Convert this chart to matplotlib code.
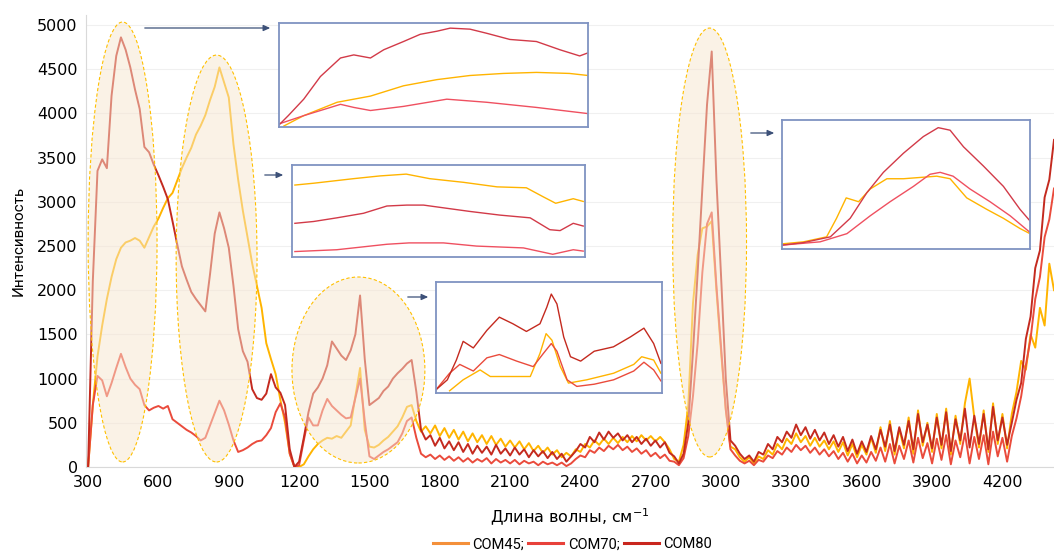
import matplotlib
matplotlib.use("Agg")
import matplotlib.pyplot as plt
import numpy as np
from matplotlib.patches import Ellipse, FancyArrowPatch
from matplotlib.lines import Line2D

# wavenumber grid, cm-1 (step 20)
wn = np.arange(300, 4421, 20)

com45 = [
    0, 700, 1250, 1600, 1900, 2150, 2350, 2480, 2540, 2560,
    2590, 2560, 2480, 2600, 2720, 2810, 2930, 3040, 3100, 3240,
    3380, 3500, 3610, 3760, 3860, 3980, 4150, 4300, 4520, 4350,
    4180, 3650, 3250, 2900, 2600, 2300, 2050, 1800, 1400, 1220,
    1050, 760, 500, 150, 0, 0, 30, 120, 200, 260,
    300, 330, 320, 350, 330, 400, 470, 800, 1120, 420,
    230, 220, 250, 300, 340, 400, 460, 560, 680, 700,
    520, 400, 460, 380, 470, 350, 440, 330, 420, 310,
    400, 290, 380, 280, 360, 260, 350, 250, 320, 230,
    300, 220, 290, 200, 270, 180, 240, 160, 220, 140,
    190, 110, 160, 120, 200, 170, 260, 220, 300, 250,
    320, 260, 330, 270, 340, 280, 350, 290, 360, 300,
    350, 290, 340, 280, 200, 90, 60, 250, 700, 1850,
    2400, 2700, 2720, 2780, 2000, 1300, 650, 230, 200, 110,
    60, 110, 40, 120, 90, 190, 140, 260, 200, 320,
    260, 380, 280, 350, 240, 330, 230, 300, 200, 290,
    170, 280, 130, 260, 110, 250, 140, 330, 160, 450,
    180, 520, 140, 430, 210, 560, 150, 640, 240, 500,
    170, 600, 210, 660, 140, 580, 260, 720, 1000, 560,
    220, 640, 170, 720, 260, 600, 210, 600, 850, 1200,
    1100, 1500, 1350, 1800, 1600, 2300, 2000,
]

com70 = [
    0, 700, 1030, 980, 800, 950, 1120, 1280, 1130, 1000,
    930, 880, 700, 640, 670, 690, 660, 690, 540, 500,
    460, 420, 390, 350, 300, 330, 470, 610, 750, 640,
    480, 300, 170, 190, 220, 260, 290, 300, 360, 440,
    620, 720, 560, 150, 0, 20, 300, 560, 470, 470,
    640, 770, 690, 640, 590, 550, 560, 780, 1000, 520,
    120, 90, 130, 170, 200, 240, 280, 380, 520, 560,
    330, 150, 110, 140, 90, 130, 80, 120, 70, 110,
    60, 100, 50, 90, 60, 100, 40, 90, 50, 80,
    40, 80, 30, 70, 40, 60, 20, 60, 30, 50,
    20, 50, 10, 40, 90, 130, 110, 190, 160, 220,
    180, 240, 200, 250, 190, 230, 170, 210, 150, 190,
    120, 160, 100, 140, 70, 60, 20, 100, 350, 800,
    1400, 2200, 2750, 2880, 2050, 1350, 650, 200, 130, 70,
    40, 70, 20, 80, 60, 130, 100, 180, 140, 220,
    170, 250, 190, 240, 160, 220, 140, 200, 120, 180,
    90, 160, 60, 150, 40, 130, 50, 170, 70, 220,
    60, 260, 40, 240, 90, 300, 50, 330, 100, 270,
    40, 320, 80, 360, 30, 300, 110, 380, 40, 340,
    90, 360, 30, 400, 120, 330, 60, 350, 550, 800,
    1150, 1450, 1900, 2150, 2600, 2800, 3150,
]

com80 = [
    0, 2100, 3350, 3480, 3380, 4200, 4650, 4860, 4720, 4520,
    4270, 4050, 3620, 3560, 3420, 3300, 3170, 3030, 2780, 2520,
    2270, 2120, 1980, 1900, 1830, 1760, 2180, 2640, 2880, 2700,
    2480, 2050, 1560, 1310, 1190, 880, 780, 760, 830, 1050,
    900, 840, 700, 200, 0, 60, 330, 620, 830, 900,
    1000, 1150, 1420, 1340, 1260, 1210, 1320, 1500, 1940, 1220,
    700, 740, 780, 860, 910, 1000, 1060, 1110, 1170, 1210,
    850, 420, 310, 360, 240, 330, 210, 290, 190, 280,
    170, 260, 150, 240, 160, 230, 140, 250, 150, 210,
    130, 220, 140, 200, 110, 190, 120, 180, 100, 170,
    90, 150, 60, 120, 180, 260, 220, 340, 280, 390,
    310, 400, 330, 380, 300, 360, 280, 340, 260, 320,
    240, 300, 220, 280, 160, 120, 40, 150, 500, 1300,
    2200, 3150, 4100, 4700, 3250, 2150, 1000, 300, 240, 150,
    90, 130, 60, 170, 140, 260, 200, 340, 280, 400,
    330, 480, 360, 450, 320, 420, 300, 390, 260, 360,
    230, 340, 180, 310, 150, 290, 170, 350, 200, 420,
    230, 480, 180, 450, 250, 520, 200, 600, 280, 480,
    210, 560, 250, 620, 180, 540, 300, 660, 220, 580,
    260, 600, 200, 680, 300, 560, 250, 500, 760, 950,
    1450, 1700, 2250, 2450, 3050, 3250, 3700,
]

# inset curves, normalised to each inset box (u, v)
in1_u80 = [0, 0.03, 0.08, 0.134, 0.199, 0.242, 0.296, 0.339, 0.403, 0.457, 0.511, 0.554, 0.618, 0.672, 0.747, 0.833, 0.909, 0.973, 1.0]
in1_v80 = [0.01, 0.10, 0.26, 0.48, 0.66, 0.69, 0.66, 0.74, 0.82, 0.89, 0.92, 0.95, 0.94, 0.90, 0.84, 0.82, 0.74, 0.68, 0.71]
in1_u45 = [0.016, 0.08, 0.188, 0.296, 0.403, 0.511, 0.618, 0.726, 0.833, 0.94, 1.0]
in1_v45 = [0.0, 0.10, 0.23, 0.29, 0.39, 0.45, 0.49, 0.51, 0.52, 0.51, 0.49]
in1_u70 = [0, 0.08, 0.145, 0.199, 0.242, 0.296, 0.403, 0.543, 0.672, 0.833, 1.0]
in1_v70 = [0.02, 0.10, 0.16, 0.21, 0.18, 0.15, 0.19, 0.26, 0.23, 0.18, 0.12]

in2_u45 = [0.01, 0.074, 0.21, 0.30, 0.39, 0.47, 0.585, 0.70, 0.80, 0.858, 0.90, 0.96, 0.994]
in2_v45 = [0.78, 0.80, 0.85, 0.88, 0.90, 0.85, 0.81, 0.76, 0.75, 0.65, 0.58, 0.63, 0.60]
in2_u80 = [0.01, 0.074, 0.153, 0.244, 0.324, 0.392, 0.449, 0.517, 0.608, 0.71, 0.813, 0.88, 0.915, 0.96, 0.994]
in2_v80 = [0.36, 0.38, 0.42, 0.47, 0.55, 0.56, 0.56, 0.53, 0.49, 0.45, 0.42, 0.29, 0.28, 0.36, 0.33]
in2_u70 = [0.01, 0.153, 0.324, 0.40, 0.517, 0.63, 0.79, 0.89, 0.96, 0.994]
in2_v70 = [0.05, 0.07, 0.13, 0.145, 0.145, 0.11, 0.09, 0.02, 0.07, 0.055]

in3_u80 = [0, 0.05, 0.09, 0.12, 0.165, 0.225, 0.28, 0.34, 0.40, 0.46, 0.49, 0.51, 0.535, 0.565, 0.595, 0.64, 0.70, 0.785, 0.86, 0.92, 0.963, 0.995]
in3_v80 = [0.02, 0.11, 0.29, 0.46, 0.40, 0.56, 0.68, 0.62, 0.55, 0.62, 0.77, 0.89, 0.80, 0.50, 0.32, 0.28, 0.37, 0.41, 0.50, 0.58, 0.44, 0.26]
in3_u70 = [0, 0.06, 0.105, 0.165, 0.225, 0.28, 0.357, 0.43, 0.475, 0.51, 0.535, 0.58, 0.623, 0.70, 0.786, 0.875, 0.92, 0.963, 0.995]
in3_v70 = [0.02, 0.17, 0.25, 0.19, 0.31, 0.34, 0.28, 0.23, 0.35, 0.44, 0.37, 0.11, 0.05, 0.07, 0.11, 0.19, 0.27, 0.20, 0.10]
in3_u45 = [0.06, 0.12, 0.195, 0.24, 0.31, 0.417, 0.46, 0.487, 0.513, 0.55, 0.586, 0.667, 0.786, 0.875, 0.91, 0.963, 0.995]
in3_v45 = [0.01, 0.11, 0.20, 0.14, 0.14, 0.14, 0.35, 0.53, 0.47, 0.23, 0.08, 0.11, 0.17, 0.25, 0.32, 0.29, 0.17]

in4_u80 = [0, 0.087, 0.195, 0.275, 0.342, 0.409, 0.49, 0.57, 0.63, 0.678, 0.732, 0.812, 0.893, 0.96, 1.0]
in4_v80 = [0.02, 0.04, 0.085, 0.23, 0.43, 0.59, 0.74, 0.87, 0.94, 0.92, 0.79, 0.64, 0.48, 0.30, 0.21]
in4_u70 = [0, 0.154, 0.262, 0.356, 0.436, 0.53, 0.597, 0.638, 0.69, 0.758, 0.839, 0.92, 1.0]
in4_v70 = [0.02, 0.046, 0.11, 0.25, 0.36, 0.48, 0.575, 0.59, 0.56, 0.46, 0.36, 0.25, 0.12]
in4_u45 = [0, 0.087, 0.18, 0.22, 0.259, 0.309, 0.356, 0.423, 0.49, 0.557, 0.624, 0.678, 0.745, 0.826, 0.893, 0.96, 1.0]
in4_v45 = [0.03, 0.046, 0.085, 0.23, 0.39, 0.36, 0.46, 0.54, 0.54, 0.55, 0.56, 0.54, 0.39, 0.30, 0.23, 0.15, 0.11]

xticks = [300, 600, 900, 1200, 1500, 1800, 2100, 2400, 2700, 3000, 3300, 3600, 3900, 4200]
yticks = [0, 500, 1000, 1500, 2000, 2500, 3000, 3500, 4000, 4500, 5000]

c45 = "#ffb400"
c70 = "#ea4b3c"
c80 = "#c42a1f"
narrow = ["Liberation Sans Narrow", "DejaVu Sans"]
plt.rcParams["font.family"] = ["Roboto", "DejaVu Sans"]

fig = plt.figure(figsize=(10.54, 5.55), dpi=100)
ax = fig.add_axes([0.0816, 0.1586, 0.9184, 0.8144])

ax.plot(wn, com45, color=c45, lw=1.4, zorder=3)
ax.plot(wn, com70, color=c70, lw=1.4, zorder=4)
ax.plot(wn, com80, color=c80, lw=1.4, zorder=5)

# highlighted regions
for cx, cy, w, h in [(447, 2545, 294, 4977), (848, 2358, 345, 4603),
                     (1453, 1097, 567, 2104), (2951, 2539, 315, 4852)]:
    ax.add_patch(Ellipse((cx, cy), w, h, facecolor="#f6e6cf", alpha=0.5,
                         edgecolor="none", zorder=6))
    ax.add_patch(Ellipse((cx, cy), w, h, facecolor="none", edgecolor="#ffc000",
                         lw=0.8, ls=(0, (3, 2)), zorder=7))

ax.set_xlim(291, 4420)
ax.set_ylim(0, 5113)
ax.set_xticks(xticks)
ax.set_yticks(yticks)
ax.set_xticklabels([str(t) for t in xticks], family=narrow, fontsize=11.5)
ax.set_yticklabels([str(t) for t in yticks], family=narrow, fontsize=11.5)
ax.tick_params(length=0, pad=6)
ax.grid(axis="y", color="#f0f0f0", lw=0.8)
ax.set_axisbelow(True)
for s in ["top", "right"]:
    ax.spines[s].set_visible(False)
for s in ["left", "bottom"]:
    ax.spines[s].set_color("#d9d9d9")
ax.set_xlabel("Длина волны, см$^{-1}$", family=narrow, fontsize=11.5, labelpad=12)
ax.set_ylabel("Интенсивность", fontsize=11, labelpad=8)

# zoomed insets
insets = [
    ([0.2647, 0.7712, 0.2932, 0.1874], [(in1_u45, in1_v45, c45), (in1_u70, in1_v70, "#ef5060"), (in1_u80, in1_v80, "#d23a48")]),
    ([0.2770, 0.5369, 0.2780, 0.1658], [(in2_u45, in2_v45, c45), (in2_u70, in2_v70, "#ef5060"), (in2_u80, in2_v80, "#d23a48")]),
    ([0.4137, 0.2919, 0.2144, 0.2000], [(in3_u45, in3_v45, c45), (in3_u70, in3_v70, c70), (in3_u80, in3_v80, c80)]),
    ([0.7419, 0.5514, 0.2353, 0.2324], [(in4_u45, in4_v45, c45), (in4_u70, in4_v70, "#ef5060"), (in4_u80, in4_v80, "#d23a48")]),
]
for rect, curves in insets:
    ia = fig.add_axes(rect)
    for u, v, col in curves:
        ia.plot(u, v, color=col, lw=1.0)
    ia.set_xlim(0, 1)
    ia.set_ylim(-0.01, 1.0)
    ia.set_xticks([])
    ia.set_yticks([])
    for s in ia.spines.values():
        s.set_color("#7f93c2")
        s.set_linewidth(1.3)

# arrows to insets (figure pixels)
for x0, x1, y in [(142, 273, 527), (262, 286, 380), (405, 431, 258), (748, 777, 422)]:
    fig.add_artist(FancyArrowPatch(
        (x0, y), (x1, y), transform=None, arrowstyle="-|>,head_length=4,head_width=1.8",
        color="#3c5078", lw=0.9, mutation_scale=1))

handles = [Line2D([], [], color="#f4903a", lw=2.2),
           Line2D([], [], color="#e8413a", lw=2.2),
           Line2D([], [], color="#c9261e", lw=2.2)]
fig.legend(handles, ["COM45;", "COM70;", "COM80"], loc="center", bbox_to_anchor=(0.543, 0.019),
           ncol=3, frameon=False, fontsize=10.5, handlelength=2.4, handletextpad=0.3,
           columnspacing=0.3)

fig.savefig("out.png", dpi=100)
